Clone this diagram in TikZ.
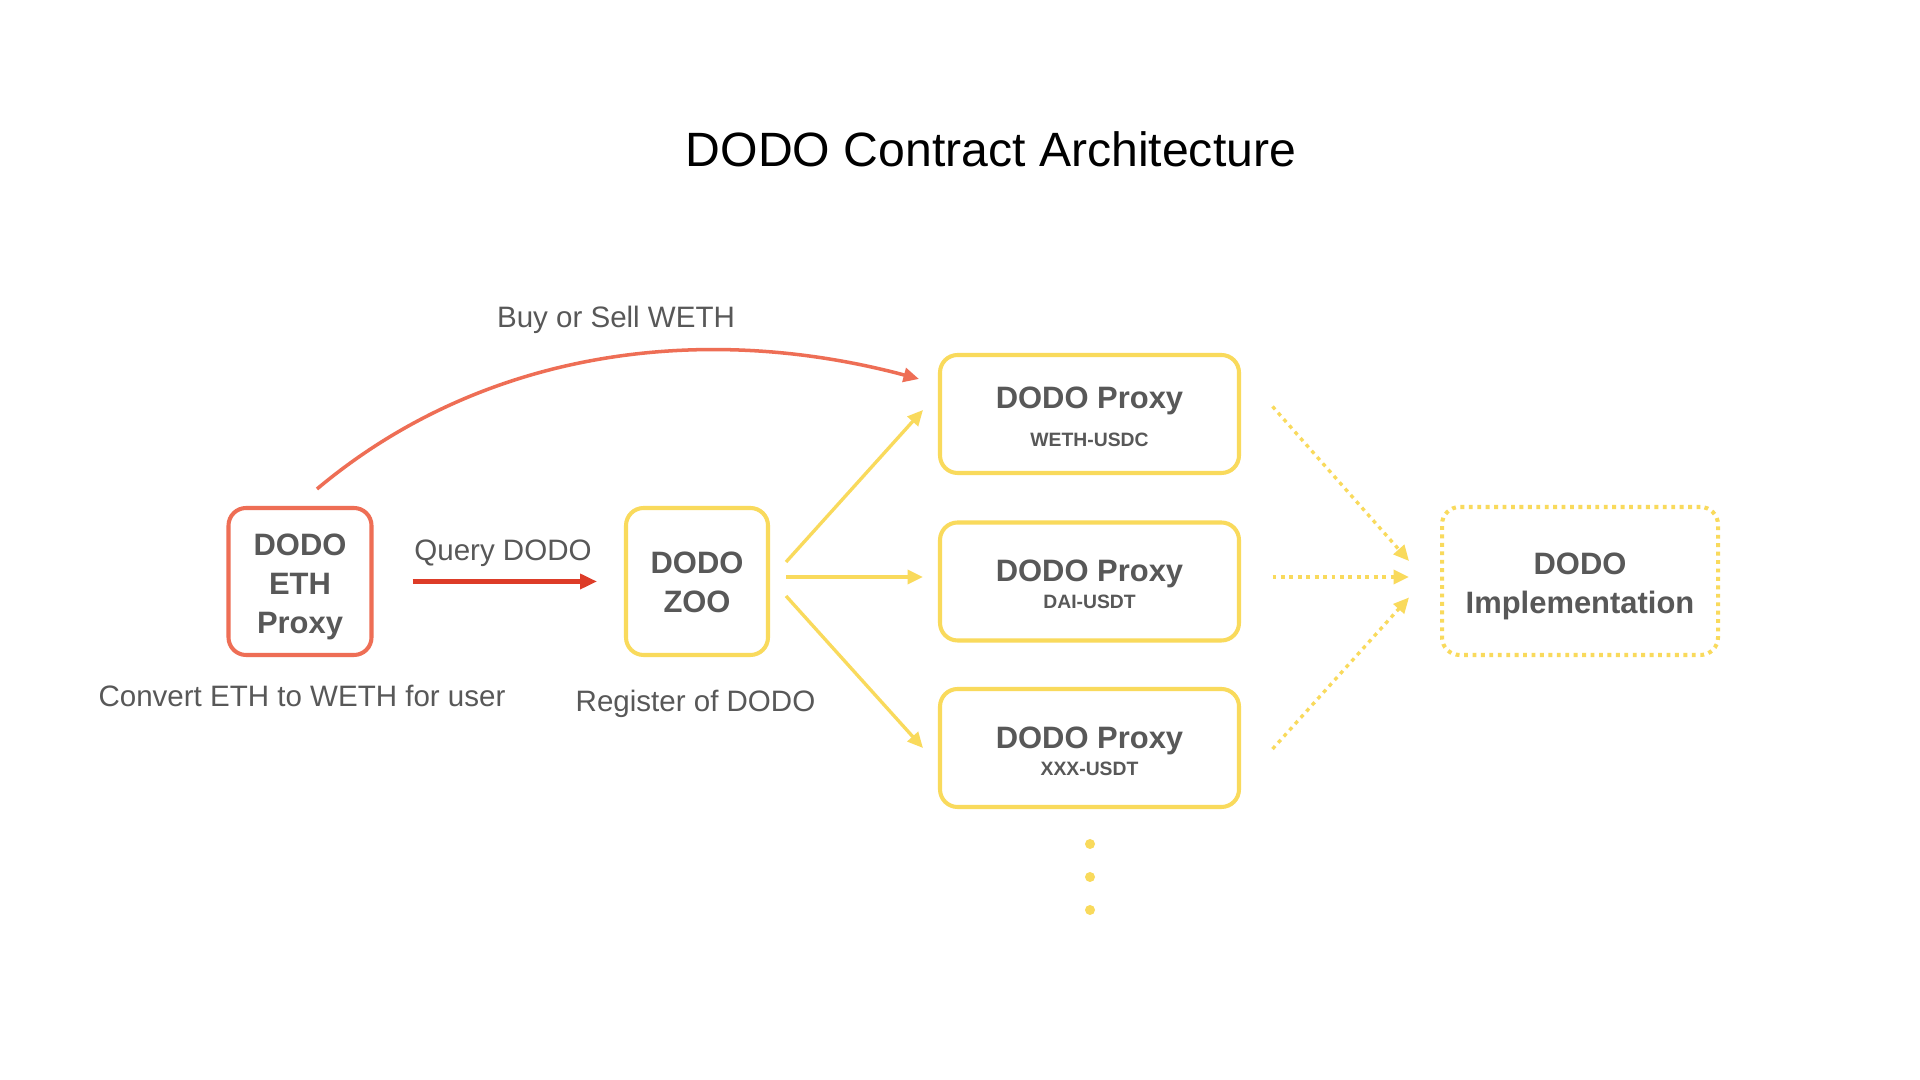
\documentclass[tikz,border=0pt]{standalone}
\usepackage{fontspec}
\setmainfont{Liberation Sans}
\usepackage{xcolor}
\usetikzlibrary{arrows.meta}
\definecolor{dodosalmon}{RGB}{238,110,85}
\definecolor{dodored}{RGB}{221,60,40}
\definecolor{dodoyellow}{RGB}{249,218,92}
\definecolor{dodogray}{RGB}{88,88,88}
\newcommand{\dropstrut}[1]{\rule{0pt}{#1}}
\tikzset{
   ethbox/.style={draw=dodosalmon, line width=1.15pt, rounded corners=5pt, text=dodogray,
                  minimum width=1.43cm, minimum height=1.47cm, inner sep=0pt, align=center,
                  font=\bfseries\fontsize{8.8}{11.1}\selectfont},
   zoobox/.style={ethbox, draw=dodoyellow, minimum width=1.42cm},
   proxybox/.style={zoobox, minimum width=2.99cm, minimum height=1.18cm,
                  font=\bfseries\fontsize{8.8}{7.6}\selectfont},
   implbox/.style={zoobox, dash pattern=on 1.1pt off 1.3pt, minimum width=2.76cm, minimum height=1.48cm},
   caption/.style={text=dodogray, font=\fontsize{8.4}{10}\selectfont, inner sep=0pt}
}
\tikzstyle{arrow} = [line width=.95pt, draw=dodoyellow, -{Triangle[length=4.4pt,width=4pt]}]
\tikzstyle{dotarrow} = [arrow, dash pattern=on 1.1pt off 1.3pt]
\newcommand{\pairfont}{\fontsize{5.5}{7.6}\selectfont}

\begin{document}
\begin{tikzpicture}

%%% canvas - 1px of the slide = 0.01cm
\fill[white] (0,0) rectangle (19.2,10.8);
\useasboundingbox (0,0) rectangle (19.2,10.8);

%% Title
\node (title) at (9.91,9.31) {\fontsize{13.7}{16}\selectfont DODO Contract Architecture};

% ETH PROXY
\node[ethbox] (eth) at (3.00,4.985) {\dropstrut{9.2pt}DODO\\ETH\\Proxy};
\node[caption] (ethcap) at (3.02,3.845) {Convert ETH to WETH for user};

% ZOO
\node[zoobox] (zoo) at (6.97,4.985) {\dropstrut{6.8pt}DODO\\ZOO};
\node[caption] (zoocap) at (6.955,3.765) {Register of DODO};

% PROXIES
\node[proxybox] (weth) at (10.895,6.66) {\dropstrut{7.8pt}DODO Proxy\\[3pt]{\pairfont WETH-USDC}};
\node[proxybox] (dai) at (10.895,4.985) {\dropstrut{7.8pt}DODO Proxy\\{\pairfont DAI-USDT}};
\node[proxybox] (xxx) at (10.895,3.32) {\dropstrut{8.1pt}DODO Proxy\\{\pairfont XXX-USDT}};

% more pairs
\foreach \y in {2.36,2.03,1.70}
   \fill[dodoyellow] (10.90,\y) circle (0.05);

% IMPLEMENTATION
\node[implbox] (impl) at (15.80,4.99) {\dropstrut{9.2pt}DODO\\Implementation};

% Buy or Sell WETH
\draw[line width=1pt, draw=dodosalmon, -{Triangle[length=4.4pt,width=4pt]}]
   ([shift={(0.17,0.17)}]eth.north) .. controls +(40:2.2) and +(165:2.2) .. ([shift={(-0.19,-0.26)}]weth.north west);
\node[caption] (buycap) at (6.16,7.605) {Buy or Sell WETH};

% Query DODO
\draw[line width=1.15pt, draw=dodored, -{Triangle[length=4.8pt,width=4.2pt]}, shorten <=0.39cm, shorten >=0.27cm] (eth) -- (zoo);
\node[caption] (querycap) at (5.03,5.265) {Query DODO};

% zoo -> proxies
\draw[arrow] ([shift={(0.16,0.195)}]zoo.east) -- ([shift={(-0.15,0.04)}]weth.west);
\draw[arrow] ([shift={(0.16,0.045)}]zoo.east) -- ([shift={(-0.15,0.045)}]dai.west);
\draw[arrow] ([shift={(0.16,-0.145)}]zoo.east) -- ([shift={(-0.15,0)}]xxx.west);

% proxies -> implementation
\draw[dotarrow] ([shift={(0.315,0.075)}]weth.east) -- ([shift={(-0.31,0.20)}]impl.west);
\draw[dotarrow] ([shift={(0.315,0.045)}]dai.east) -- ([shift={(-0.31,0.04)}]impl.west);
\draw[dotarrow] ([shift={(0.315,-0.01)}]xxx.east) -- ([shift={(-0.31,-0.165)}]impl.west);

\end{tikzpicture}
\end{document}
